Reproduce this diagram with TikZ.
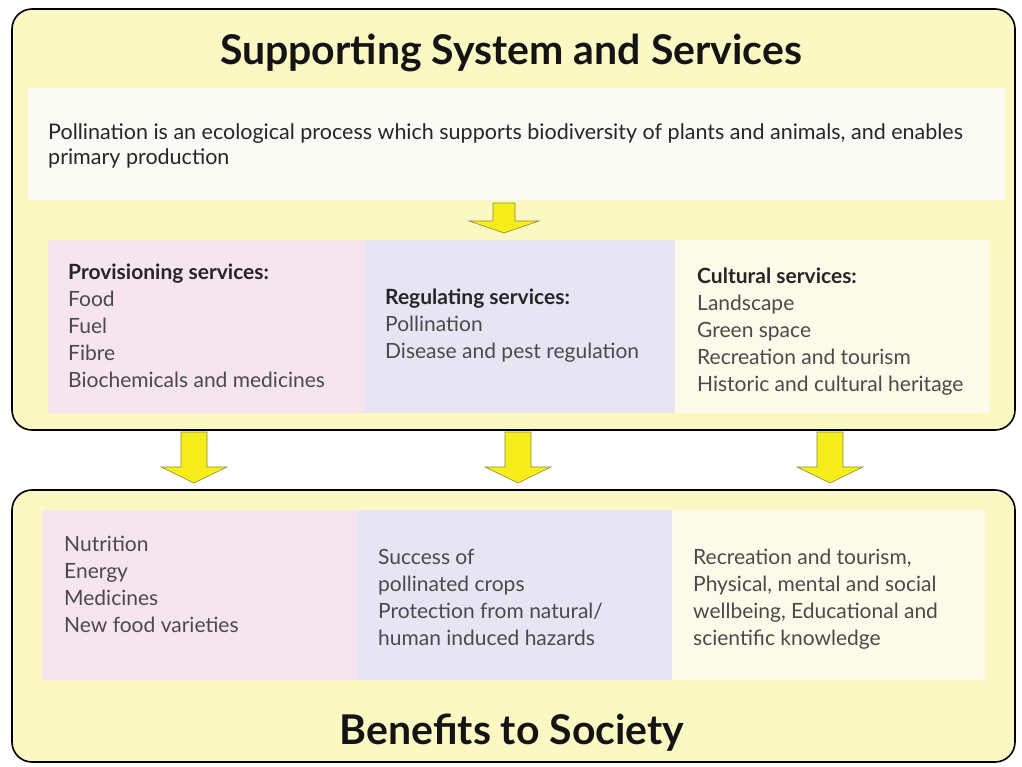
\documentclass[tikz,border=0pt]{standalone}
\usepackage{fontspec}
\setmainfont{Lato}
\usepackage{tikz}
\usetikzlibrary{calc}
\definecolor{boxyellow}{HTML}{FBF8C4}
\definecolor{bandwhite}{HTML}{FBFBF6}
\definecolor{panelpink}{HTML}{F6E4EE}
\definecolor{panellilac}{HTML}{E7E4F4}
\definecolor{panelcream}{HTML}{FCFBEA}
\definecolor{arrowfill}{HTML}{F6EE1A}
\definecolor{arrowline}{HTML}{8A8A40}
\definecolor{itemgrey}{HTML}{4A4A4A}
\tikzset{
  outerbox/.style={draw=black, line width=1.6pt, rounded corners=20pt, fill=boxyellow},
  arrowbox/.style={draw=arrowline, line width=0.6pt, fill=arrowfill, line join=miter},
  title/.style={anchor=base, inner sep=0pt, font=\fontsize{41}{46}\selectfont\bfseries, text=black!92},
  % anchor sits on the baseline of the last line
  listtext/.style={anchor=base west, align=left, inner sep=0pt, text=itemgrey,
    font=\fontsize{21}{27}\selectfont},
}
% block arrow: centre x, top y, tip y, half shaft, half head, head length
\def\blockarrow(#1,#2,#3,#4,#5,#6){\draw[arrowbox] ({#1-#4},#2) -- ({#1+#4},#2) -- ({#1+#4},{#3-#6}) -- ({#1+#5},{#3-#6}) -- (#1,#3) -- ({#1-#5},{#3-#6}) -- ({#1-#4},{#3-#6}) -- cycle;}
\begin{document}
\begin{tikzpicture}[x=1pt, y=-1pt]
    \useasboundingbox[fill=white] (0,0) rectangle (1022,766);

    %%%%% SUPPORTING SYSTEM %%%%%
    \draw[outerbox] (12,9) rectangle (1015,430);
    \node[title] (support) at (511,64) {Supporting System and Services};
    \fill[bandwhite] (28,88) rectangle (1005,200);
    \node[listtext, text=black!85, font=\fontsize{21.5}{25}\selectfont] (process) at (48,164) {Pollination is an ecological process which supports biodiversity of plants and animals, and enables\\primary production};

    \blockarrow(504,203,233,11,35,12)

    \fill[panelpink] (48,240) rectangle (365,413);
    \fill[panellilac] (365,240) rectangle (675,413);
    \fill[panelcream] (675,240) rectangle (990,413);

    \node[listtext] (provision) at (68,387) {\textcolor{black!85}{\bfseries Provisioning services:}\\Food\\Fuel\\Fibre\\Biochemicals and medicines};
    \node[listtext] (regulate) at (385,358) {\textcolor{black!85}{\bfseries Regulating services:}\\Pollination\\Disease and pest regulation};
    \node[listtext] (culture) at (697,391) {\textcolor{black!85}{\bfseries Cultural services:}\\Landscape\\Green space\\Recreation and tourism\\Historic and cultural heritage};

    %%%%% ARROWS %%%%%
    \blockarrow(194,432,483,13,33,16)
    \blockarrow(518,432,483,13,33,16)
    \blockarrow(830,432,483,13,33,16)

    %%%%% BENEFITS %%%%%
    \draw[outerbox] (12,490) rectangle (1015,762);

    \fill[panelpink] (42,510) rectangle (357,680);
    \fill[panellilac] (357,510) rectangle (672,680);
    \fill[panelcream] (672,510) rectangle (985,680);

    \node[listtext] (nutrition) at (64,632) {Nutrition\\Energy\\Medicines\\New food varieties};
    \node[listtext] (crops) at (378,645) {Success of\\pollinated crops\\Protection from natural/\\human induced hazards};
    \node[listtext] (wellbeing) at (693,645) {Recreation and tourism,\\Physical, mental and social\\wellbeing, Educational and\\scientific knowledge};

    \node[title] (benefits) at (512,744) {Benefits to Society};
\end{tikzpicture}
\end{document}
